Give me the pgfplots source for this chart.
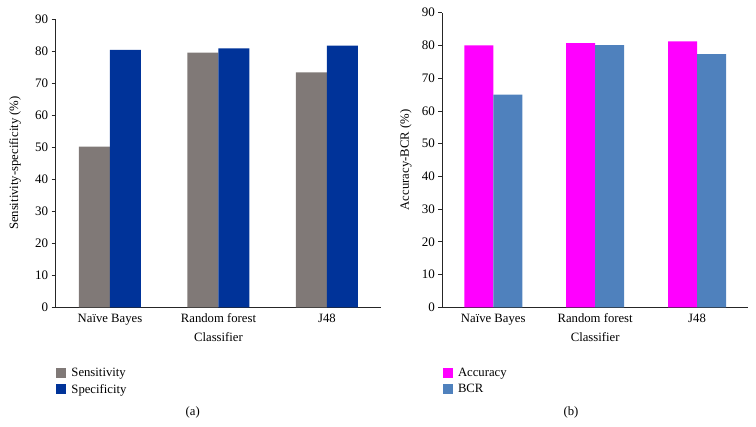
\documentclass[border=0pt]{standalone}
\usepackage{fontspec}
\setmainfont{Liberation Serif}
\usepackage{pgfplots}
\pgfplotsset{compat=1.18}

\definecolor{sensgray}{RGB}{128,121,119}
\definecolor{specblue}{RGB}{0,51,153}
\definecolor{accmag}{RGB}{255,0,255}
\definecolor{bcrblue}{RGB}{79,129,189}

\pgfplotsset{
 mystyle/.style={
  scale only axis,
  axis x line=bottom, axis y line=left,
  axis line style={-, black!85, line width=0.7pt},
  ymin=0, ymax=90, ytick={0,10,...,90},
  xmin=-0.5, xmax=2.5, xtick={0,1,2},
  xticklabels={Naïve Bayes, Random forest, J48},
  x tick style={draw=none},
  y tick style={black!85, line width=0.7pt},
  tick align=outside, major tick length=4pt,
  ybar=0pt,
  font=\fontsize{12.7}{15}\selectfont,
  tick label style={font=\fontsize{12.7}{15}\selectfont},
  yticklabel style={font=\fontsize{13}{15}\selectfont},
  /pgf/number format/assume math mode=true,
  xticklabel style={anchor=base, yshift=-11pt},
  xlabel={Classifier},
  xlabel style={at={(axis description cs:0.5,0)}, anchor=base, yshift=-34.4pt},
  legend style={draw=none, fill=none, anchor=north west, inner sep=0pt,
    legend cell align=left, font=\fontsize{12.7}{15}\selectfont,
    nodes={inner sep=1.5pt}, row sep=3.5pt, column sep=4pt},
  legend image code/.code={\fill[##1,draw=none] (0pt,-5pt) rectangle (10pt,5pt);},
 }
}

\begin{document}
\begin{tikzpicture}
\useasboundingbox (0,0) rectangle (756pt,427pt);
\begin{axis}[mystyle,
  at={(55.75pt,119.67pt)}, anchor=south west,
  width=325.5pt, height=288.33pt,
  bar width=31pt,
  ylabel={Sensitivity-specificity (\%)},
  ylabel style={at={(axis description cs:-0.125,0.5)}, anchor=center},
  legend style={at={(axis description cs:0,-0.204)}},
]
\addplot[fill=sensgray, draw=none] coordinates {(0,50.2) (1,79.5) (2,73.3)};
\addplot[fill=specblue, draw=none] coordinates {(0,80.4) (1,80.8) (2,81.7)};
\addlegendentry{Sensitivity}
\addlegendentry{Specificity}
\end{axis}
\begin{axis}[mystyle,
  at={(442.3pt,119.67pt)}, anchor=south west,
  width=305.7pt, height=294.67pt,
  bar width=29pt,
  ylabel={Accuracy-BCR (\%)},
  ylabel style={at={(axis description cs:-0.119,0.5)}, anchor=center},
  legend style={at={(axis description cs:0,-0.2)}},
]
\addplot[fill=accmag, draw=none] coordinates {(0,80.0) (1,80.7) (2,81.2)};
\addplot[fill=bcrblue, draw=none] coordinates {(0,65.0) (1,80.1) (2,77.3)};
\addlegendentry{Accuracy}
\addlegendentry{BCR}
\end{axis}
\node at (192.7pt,14.7pt) {\fontsize{12.7}{15}\selectfont (a)};
\node at (571pt,14.7pt) {\fontsize{12.7}{15}\selectfont (b)};
\end{tikzpicture}
\end{document}
